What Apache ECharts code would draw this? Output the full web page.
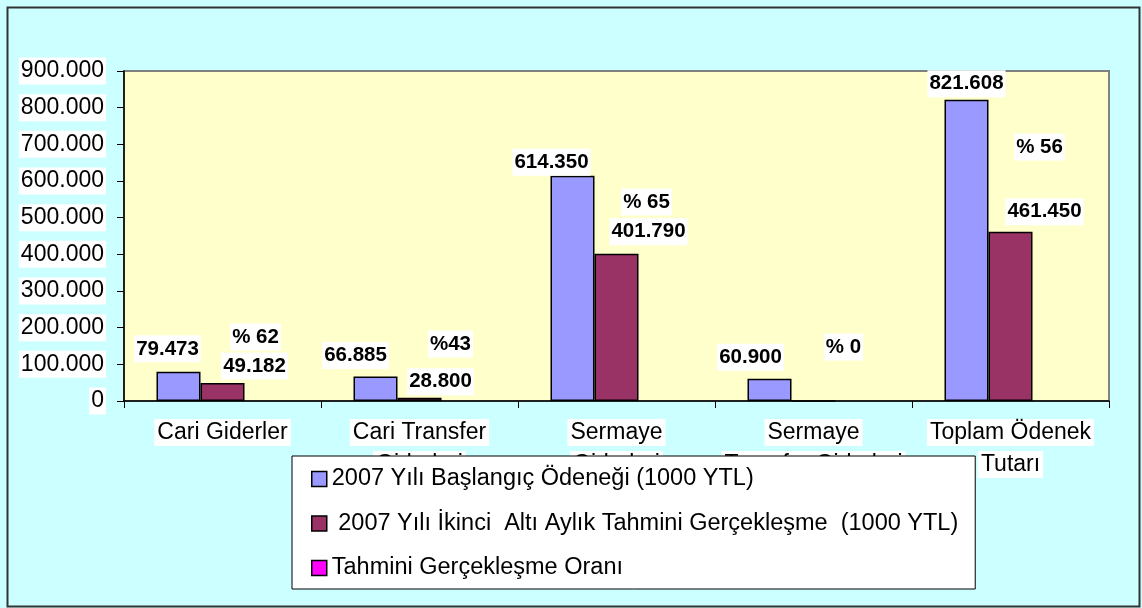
<!DOCTYPE html>
<html>
<head>
<meta charset="utf-8">
<script src="https://cdn.jsdelivr.net/npm/echarts@6/dist/echarts.min.js"></script>
<style>
html,body{margin:0;padding:0;background:#CCFFFF;}
#chart{width:1142px;height:608px;}
</style>
</head>
<body>
<div id="chart"></div>
<script>
// ---- data ----
const categories = ['Cari Giderler', 'Cari Transfer\nGiderleri', 'Sermaye\nGiderleri', 'Sermaye\nTransfer Giderleri', 'Toplam Ödenek\nTutarı'];
const seriesNames = ['2007 Yılı Başlangıç Ödeneği (1000 YTL)', ' 2007 Yılı İkinci  Altı Aylık Tahmini Gerçekleşme  (1000 YTL)', 'Tahmini Gerçekleşme Oranı'];
const baslangic = [79473, 66885, 614350, 60900, 821608];
const gerceklesme = [49182, 9000, 401790, 0, 461450];
const gerceklesmeLabels = ['49.182', '28.800', '401.790', '', '461.450'];
const oran = [62, 43, 65, 0, 56];
const oranLabels = ['% 62', '%43', '% 65', '% 0', '% 56'];
const yTickLabels = ['0', '100.000', '200.000', '300.000', '400.000', '500.000', '600.000', '700.000', '800.000', '900.000'];

// ---- label placement (style) ----
const off1 = [[-11, -9.5], [-20, -7.5], [-21, 0], [-19, -8], [0, -2.5]];
const off2 = [[32, -3.5], [21, -2.5], [32, -8.5], [0, 0], [34, -6.5]];
const off3 = [[-11, -50.5], [-13, -43.5], [-14, -185.5], [-14, -40.5], [-15, -240.5]];

const FONT = '"Liberation Sans", Arial, sans-serif';
const fmt = v => String(v).replace(/\B(?=(\d{3})+(?!\d))/g, '.');

const dataLabel = {
  show: true, position: 'top', distance: 0,
  fontFamily: FONT, fontSize: 20.5, fontWeight: 'bold', color: '#000',
  backgroundColor: '#fff', padding: [3, 2, 3, 2], lineHeight: 21
};

const chart = echarts.init(document.getElementById('chart'), null, {renderer: 'canvas'});
chart.setOption({
  backgroundColor: '#CCFFFF',
  animation: false,
  graphic: [{
    type: 'rect', left: 5, top: 5, z: 100, silent: true,
    shape: {width: 1132, height: 599},
    style: {fill: 'none', stroke: '#333', lineWidth: 2}
  }],
  grid: {
    left: 124, top: 71, right: 33, bottom: 207,
    show: true, backgroundColor: '#FFFFCC', borderColor: '#808080', borderWidth: 2
  },
  legend: {
    orient: 'vertical', left: 292, top: 456,
    backgroundColor: '#fff', borderColor: '#000', borderWidth: 1,
    padding: [11, 17, 9, 19], itemGap: 20.5,
    itemWidth: 15, itemHeight: 15, icon: 'rect',
    itemStyle: {borderColor: '#000', borderWidth: 1.5},
    selectedMode: false,
    textStyle: {fontFamily: FONT, fontSize: 23.5, color: '#000', lineHeight: 24},
    data: seriesNames
  },
  xAxis: {
    type: 'category', data: categories,
    axisLine: {lineStyle: {color: '#000', width: 1.5}},
    axisTick: {show: true, length: 7, alignWithLabel: false, lineStyle: {color: '#000'}},
    axisLabel: {
      interval: 0, margin: 20,
      formatter: v => v.split('\n').map(s => '{a|' + s + '}').join('\n{s|}\n'),
      rich: {
        a: {fontFamily: FONT, fontSize: 23, color: '#000', backgroundColor: '#fff', lineHeight: 23, padding: [2, 3, 2, 3]},
        s: {lineHeight: 9, fontSize: 4}
      }
    }
  },
  yAxis: {
    type: 'value', min: 0, max: 900000, interval: 100000,
    splitLine: {show: false},
    axisLine: {show: true, lineStyle: {color: '#000', width: 1.5}},
    axisTick: {show: true, length: 7, lineStyle: {color: '#000'}},
    axisLabel: {
      margin: 18, fontFamily: FONT, fontSize: 23, color: '#000',
      backgroundColor: '#fff', padding: [2, 2, 2, 2],
      formatter: v => yTickLabels[Math.round(v / 100000)]
    }
  },
  series: [
    {
      name: seriesNames[0], type: 'bar', barWidth: 44, barGap: '0%',
      itemStyle: {color: '#9999FF', borderColor: '#000', borderWidth: 1.5},
      label: Object.assign({}, dataLabel, {formatter: p => fmt(p.value)}),
      data: baslangic.map((v, i) => ({value: v, label: {offset: off1[i]}}))
    },
    {
      name: seriesNames[1], type: 'bar', barWidth: 44, barGap: '0%',
      itemStyle: {color: '#993366', borderColor: '#000', borderWidth: 1.5},
      label: Object.assign({}, dataLabel, {formatter: p => gerceklesmeLabels[p.dataIndex]}),
      data: gerceklesme.map((v, i) => ({value: v, label: {offset: off2[i], show: gerceklesmeLabels[i] !== ''}}))
    },
    {
      name: seriesNames[2], type: 'bar', barWidth: 44, barGap: '0%',
      itemStyle: {color: '#FF00FF', borderWidth: 0},
      label: Object.assign({}, dataLabel, {formatter: p => oranLabels[p.dataIndex]}),
      data: oran.map((v, i) => ({value: v, label: {offset: off3[i]}}))
    }
  ]
});
</script>
</body>
</html>
